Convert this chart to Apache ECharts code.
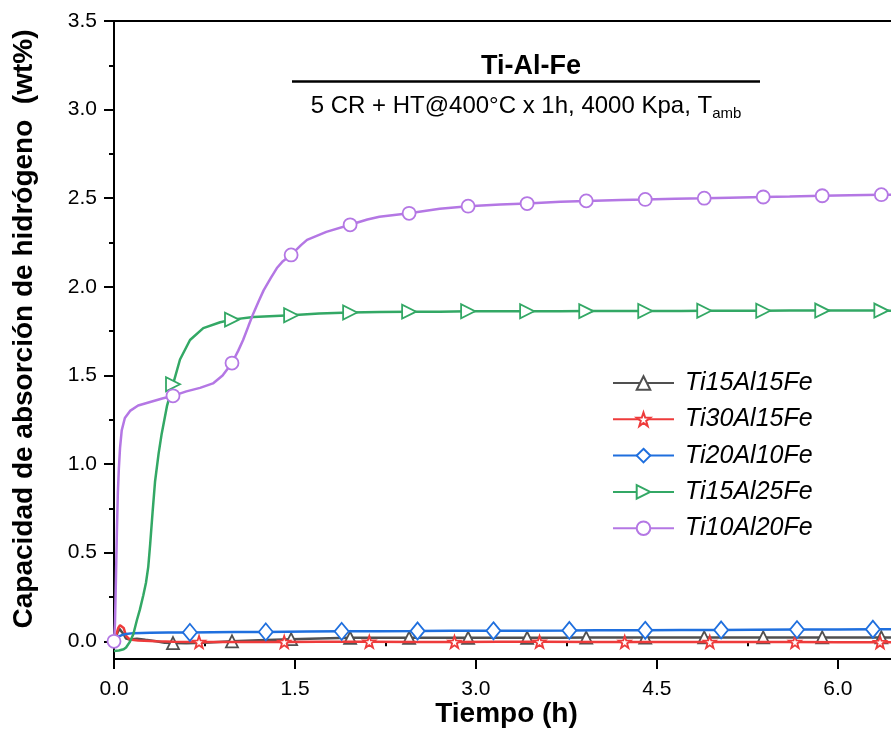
<!DOCTYPE html>
<html><head><meta charset="utf-8">
<script src="https://cdn.jsdelivr.net/npm/echarts@6/dist/echarts.min.js"></script>
<style>html,body{margin:0;padding:0;background:#fff}#c{width:891px;height:747px}</style>
</head><body><div id="c"></div>
<script>
// ---------- data ----------
const seriesNames = ['Ti15Al15Fe', 'Ti30Al15Fe', 'Ti20Al10Fe', 'Ti15Al25Fe', 'Ti10Al20Fe'];
const xTickValues = [0, 1.5, 3.0, 4.5, 6.0];
const xMinorTicks = [0.75, 2.25, 3.75, 5.25];
const yTickValues = [0, 0.5, 1.0, 1.5, 2.0, 2.5, 3.0, 3.5];
const yMinorTicks = [0.25, 0.75, 1.25, 1.75, 2.25, 2.75, 3.25];

// Ti15Al15Fe (gray)
const grayT = [0, 0.015, 0.03, 0.045, 0.06, 0.08, 0.1, 0.13, 0.19, 0.26, 0.35, 0.42, 0.6, 0.75, 1.2, 1.7, 2.2, 2.7, 3.2, 3.7, 4.2, 4.7, 5.2, 5.7, 6.2, 6.44];
const grayY = [0.0, 0.02, 0.05, 0.07, 0.068, 0.04, 0.015, 0.01, 0.015, 0.008, 0.0, -0.008, -0.011, -0.008, 0.006, 0.016, 0.02, 0.02, 0.02, 0.02, 0.021, 0.021, 0.022, 0.022, 0.022, 0.022];
const grayMarkT = [0.489, 0.978, 1.468, 1.957, 2.446, 2.935, 3.424, 3.914, 4.403, 4.892, 5.381, 5.870, 6.360];
const grayMarkY = [-0.01, 0.0, 0.012, 0.02, 0.02, 0.02, 0.02, 0.021, 0.021, 0.022, 0.022, 0.022, 0.022];

// Ti30Al15Fe (red)
const redT = [0, 0.02, 0.035, 0.05, 0.065, 0.08, 0.1, 0.13, 0.2, 0.35, 0.5, 1.0, 1.7, 2.5, 3.2, 4.0, 4.6, 5.3, 6.0, 6.44];
const redY = [0.01, 0.04, 0.075, 0.09, 0.095, 0.075, 0.03, 0.01, 0.004, 0.0, -0.003, -0.004, -0.003, -0.004, -0.003, -0.004, -0.004, -0.004, -0.005, -0.005];
const redMarkT = [0.705, 1.411, 2.116, 2.822, 3.527, 4.233, 4.938, 5.644, 6.349];
const redMarkY = [-0.004, -0.004, -0.003, -0.004, -0.003, -0.004, -0.004, -0.004, -0.005];

// Ti20Al10Fe (blue)
const blueT = [0, 0.02, 0.04, 0.07, 0.1, 0.16, 0.3, 0.45, 1.0, 1.6, 2.2, 2.8, 3.4, 4.0, 4.7, 5.3, 6.0, 6.44];
const blueY = [0.012, 0.02, 0.028, 0.036, 0.041, 0.046, 0.048, 0.049, 0.052, 0.055, 0.057, 0.059, 0.06, 0.062, 0.063, 0.065, 0.067, 0.068];
const blueMarkT = [0.629, 1.258, 1.887, 2.516, 3.145, 3.774, 4.403, 5.032, 5.661, 6.290];
const blueMarkY = [0.05, 0.053, 0.056, 0.058, 0.059, 0.061, 0.062, 0.064, 0.066, 0.068];

// Ti15Al25Fe (green)
const greenT = [0, 0.04, 0.08, 0.1, 0.13, 0.16, 0.19, 0.215, 0.243, 0.265, 0.284, 0.3, 0.32, 0.34, 0.37, 0.395, 0.44, 0.547, 0.63, 0.74, 0.88, 1.155, 1.7, 2.2, 2.7, 3.2, 3.7, 4.2, 4.7, 5.2, 5.6, 6.1, 6.44];
const greenY = [-0.055, -0.052, -0.045, -0.035, -0.005, 0.04, 0.12, 0.18, 0.26, 0.33, 0.42, 0.55, 0.73, 0.9, 1.06, 1.17, 1.33, 1.59, 1.70, 1.767, 1.80, 1.83, 1.85, 1.858, 1.86, 1.862, 1.862, 1.863, 1.864, 1.865, 1.866, 1.866, 1.865];
const greenMarkT = [0.489, 0.978, 1.468, 1.957, 2.446, 2.935, 3.424, 3.914, 4.403, 4.892, 5.381, 5.870, 6.360];
const greenMarkY = [1.45, 1.815, 1.84, 1.855, 1.86, 1.862, 1.862, 1.863, 1.864, 1.865, 1.865, 1.866, 1.866];

// Ti10Al20Fe (purple)
const purpleT = [0.008, 0.016, 0.024, 0.032, 0.04, 0.05, 0.064, 0.09, 0.133, 0.2, 0.3, 0.4, 0.6, 0.713, 0.82, 0.9, 1.03, 1.07, 1.115, 1.155, 1.2, 1.24, 1.3, 1.35, 1.4, 1.55, 1.6, 1.76, 2.1, 2.2, 2.7, 3.2, 3.7, 4.2, 4.65, 5.1, 5.6, 6.1, 6.44];
const purpleY = [0.1, 0.35, 0.62, 0.84, 0.97, 1.09, 1.19, 1.26, 1.30, 1.33, 1.35, 1.37, 1.41, 1.43, 1.455, 1.50, 1.64, 1.70, 1.78, 1.85, 1.92, 1.98, 2.05, 2.106, 2.145, 2.235, 2.265, 2.31, 2.38, 2.395, 2.44, 2.465, 2.48, 2.49, 2.497, 2.503, 2.51, 2.517, 2.52];
const purpleMarkT = [0, 0.489, 0.978, 1.468, 1.957, 2.446, 2.935, 3.424, 3.914, 4.403, 4.892, 5.381, 5.870, 6.360];
const purpleMarkY = [0.0, 1.385, 1.57, 2.18, 2.35, 2.415, 2.455, 2.47, 2.485, 2.493, 2.50, 2.507, 2.514, 2.52];

// ---------- styles ----------
const colors = ['#505050', '#ee3b3b', '#1f6fde', '#33a865', '#b477e4'];
const STAR = 'path://M0,-10L2.35,-3.24L9.51,-3.09L3.8,1.24L5.88,8.09L0,4L-5.88,8.09L-3.8,1.24L-9.51,-3.09L-2.35,-3.24Z';
const symbols = ['triangle', STAR, 'diamond', 'triangle', 'circle'];
const symbolSizes = [12, 12, [14, 17], 14, 13];
const symbolRotates = [0, 0, 0, -90, 0];

function build(t, y, mt, my) {
  const pts = [];
  t.forEach((v, i) => pts.push({ value: [v, y[i]], symbol: 'none' }));
  mt.forEach((v, i) => pts.push({ value: [v, my[i]] }));
  pts.sort((a, b) => a.value[0] - b.value[0]);
  return pts;
}
const datasets = [
  build(grayT, grayY, grayMarkT, grayMarkY),
  build(redT, redY, redMarkT, redMarkY),
  build(blueT, blueY, blueMarkT, blueMarkY),
  build(greenT, greenY, greenMarkT, greenMarkY),
  build(purpleT, purpleY, purpleMarkT, purpleMarkY)
];

const FONT = 'Liberation Sans';
const chart = echarts.init(document.getElementById('c'), null, { renderer: 'canvas' });

const series = seriesNames.map((name, i) => ({
  name,
  type: 'line',
  xAxisIndex: 0,
  yAxisIndex: 0,
  data: datasets[i],
  symbol: symbols[i],
  symbolSize: symbolSizes[i],
  symbolRotate: symbolRotates[i],
  showSymbol: true,
  clip: true,
  z: 2 + i,
  lineStyle: { color: colors[i], width: 2.5 },
  itemStyle: { color: '#ffffff', borderColor: colors[i], borderWidth: 1.8 },
  emphasis: { disabled: true }
}));

const option = {
  animation: false,
  backgroundColor: '#ffffff',
  grid: { left: 114, right: 0, top: 21, bottom: 88, outerBoundsMode: 'none', containLabel: false },
  xAxis: [{
    type: 'value', min: 0, max: 6.44, position: 'bottom',
    axisLine: { show: true, onZero: false, lineStyle: { color: '#000', width: 2 } },
    axisTick: { show: true, inside: false, length: 10, lineStyle: { color: '#000', width: 2 }, customValues: xTickValues },
    axisLabel: { show: true, margin: 20, color: '#000', fontFamily: FONT, fontSize: 21, customValues: xTickValues, formatter: v => v.toFixed(1) },
    splitLine: { show: false }
  }, {
    type: 'value', min: 0, max: 6.44, position: 'bottom', gridIndex: 0,
    axisLine: { show: false },
    axisTick: { show: true, inside: false, length: 5, lineStyle: { color: '#000', width: 2 }, customValues: xMinorTicks },
    axisLabel: { show: false },
    splitLine: { show: false }
  }, {
    type: 'value', min: 0, max: 6.44, position: 'top', gridIndex: 0,
    axisLine: { show: true, onZero: false, lineStyle: { color: '#000', width: 2 } },
    axisTick: { show: false }, axisLabel: { show: false }, splitLine: { show: false }
  }],
  yAxis: [{
    type: 'value', min: -0.1, max: 3.5,
    axisLine: { show: true, onZero: false, lineStyle: { color: '#000', width: 2 } },
    axisTick: { show: true, inside: false, length: 10, lineStyle: { color: '#000', width: 2 }, customValues: yTickValues },
    axisLabel: { show: true, margin: 17, color: '#000', fontFamily: FONT, fontSize: 21, customValues: yTickValues, formatter: v => v.toFixed(1) },
    splitLine: { show: false }
  }, {
    type: 'value', min: -0.1, max: 3.5, position: 'left',
    axisLine: { show: false },
    axisTick: { show: true, inside: false, length: 5, lineStyle: { color: '#000', width: 2 }, customValues: yMinorTicks },
    axisLabel: { show: false },
    splitLine: { show: false }
  }],
  legend: {
    orient: 'vertical', left: 612, top: 370, padding: 0,
    itemWidth: 61, itemHeight: 17, itemGap: 10.3,
    textStyle: { fontFamily: FONT, fontStyle: 'italic', fontSize: 25, lineHeight: 26, color: '#000', padding: [0, 0, 0, 6] },
    data: seriesNames,
    selectedMode: false
  },
  graphic: [
    { type: 'text', style: { text: 'Ti-Al-Fe', x: 531, y: 67, align: 'center', verticalAlign: 'middle', font: 'bold 27px "Liberation Sans"', fill: '#000' } },
    { type: 'line', shape: { x1: 292, y1: 81.5, x2: 760, y2: 81.5 }, style: { stroke: '#000', lineWidth: 2.5 } },
    { type: 'text', style: {
        x: 526, y: 106, align: 'center', verticalAlign: 'middle',
        text: '{a|5 CR + HT@400°C x 1h, 4000 Kpa, T}{s|amb}',
        rich: {
          a: { fontFamily: FONT, fontSize: 24, lineHeight: 30, fill: '#000', verticalAlign: 'middle' },
          s: { fontFamily: FONT, fontSize: 15, lineHeight: 15, fill: '#000', verticalAlign: 'bottom' }
        }
    } },
    { type: 'text', style: { text: 'Tiempo (h)', x: 506.5, y: 714, align: 'center', verticalAlign: 'middle', font: 'bold 28px "Liberation Sans"', fill: '#000' } },
    { type: 'text', rotation: Math.PI / 2, x: 24, y: 329, style: { text: 'Capacidad de absorción de hidrógeno  (wt%)', x: 0, y: 0, align: 'center', verticalAlign: 'middle', font: 'bold 28px "Liberation Sans"', fill: '#000' } }
  ],
  series
};
chart.setOption(option);
</script>
</body></html>
